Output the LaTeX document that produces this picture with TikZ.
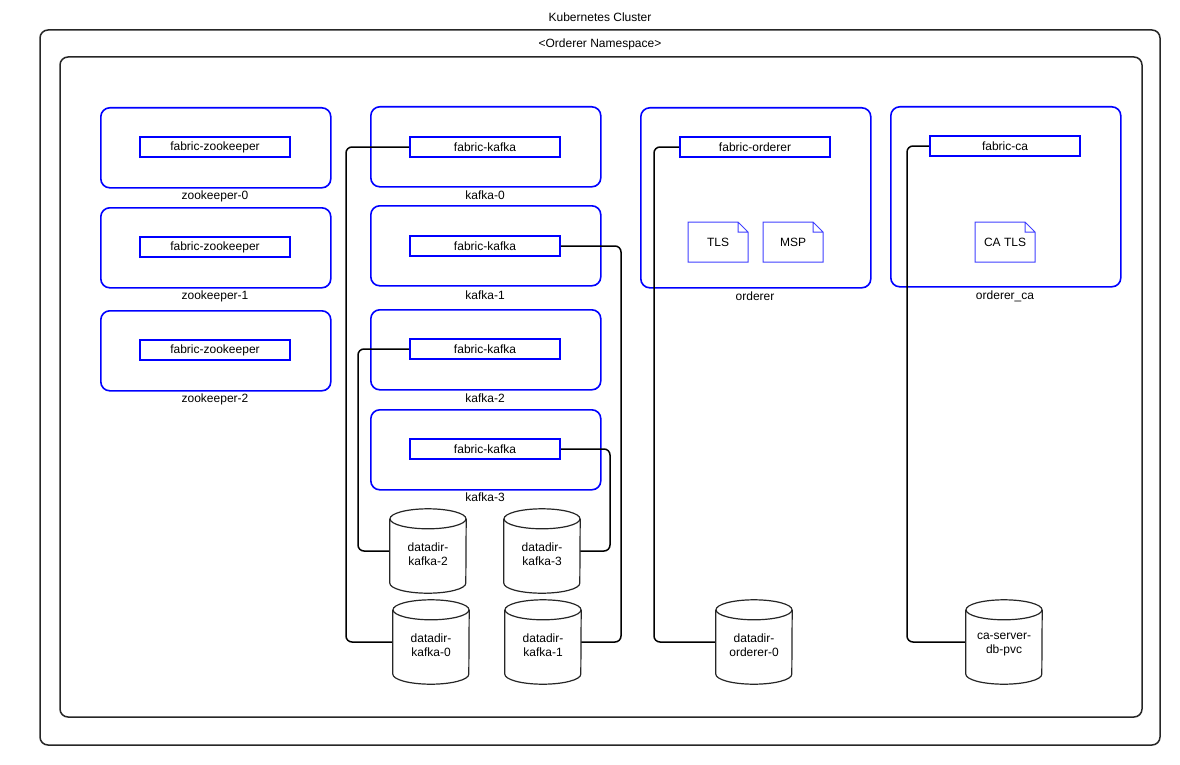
\documentclass[tikz,border=0pt]{standalone}
\usepackage{fontspec}
\setmainfont{Liberation Sans}
\begin{document}
\begin{tikzpicture}[x=1pt,y=-1pt,font=\fontsize{12}{14}\selectfont,
  frame/.style={draw=black!85,line width=1.5pt,rounded corners=8pt},
  pod/.style={draw=blue,line width=1.6pt,rounded corners=9pt,minimum width=230pt,inner sep=0pt},
  ctr/.style={draw=blue,line width=1.6pt,minimum width=150pt,minimum height=20pt,inner sep=0pt},
  cylb/.style={minimum width=76pt,minimum height=84pt,inner sep=0pt,align=center},
  cyl/.style={draw=black!85,line width=1.2pt,fill=white},
  conn/.style={draw=black,line width=1.5pt,rounded corners=6pt},
  lbl/.style={inner sep=1pt}]
\newcommand\mycyl[1]{\draw[cyl] ([yshift=-10pt]#1.north west) -- ([yshift=10pt]#1.south west) arc[start angle=180,end angle=360,x radius=38pt,y radius=10pt] -- ([yshift=-10pt]#1.north east);
\draw[cyl] ([yshift=-10pt]#1.north) ellipse[x radius=38pt,y radius=10pt];}
\newcommand\mydoc[3]{\draw[draw=blue!75,line width=1pt,fill=white] (#2,222) -- (#2+50,222) -- (#2+60,232) -- (#2+60,262) -- (#2,262) -- cycle (#2+50,222) -- (#2+50,232) -- (#2+60,232);
\node[lbl] (#1) at (#2+30,242) {#3};}
\useasboundingbox (0,0) rectangle (1180,765);
% frames
\draw[frame] (40,30) rectangle (1160,745);
\node[lbl] (kc) at (600,17) {Kubernetes Cluster};
\draw[frame] (60,57) rectangle (1142,717);
\node[lbl] (ns) at (600,44) {<Orderer Namespace>};
% zookeeper
\foreach \i/\y/\ly in {0/107/196,1/207/296,2/310/399}{
  \node[pod,minimum height=80pt,anchor=north west] (zp\i) at (100,\y) {};
  \node[ctr,fill=white] (zc\i) at (215,\y+40) {fabric-zookeeper};
  \node[lbl] (zl\i) at (215,\ly) {zookeeper-\i};
}
% kafka pods
\foreach \i/\y/\ly in {0/106/195,1/205/295,2/309/398,3/409/497}{
  \node[pod,minimum height=80pt,anchor=north west] (kp\i) at (370,\y) {};
  \node[lbl] (kl\i) at (485,\ly) {kafka-\i};
}
% orderer, ca pods
\node[pod,minimum height=180pt,anchor=north west] (op) at (640,107) {};
\node[lbl] (ol) at (755,296) {orderer};
\node[pod,minimum height=180pt,anchor=north west] (cp) at (890,106) {};
\node[lbl] (cl) at (1005,296) {orderer\_ca};
% cylinders
\node[cylb] (d2) at (428,551) {};
\node[cylb] (d3) at (542,551) {};
\node[cylb] (d0) at (431,642) {};
\node[cylb] (d1) at (543,642) {};
\node[cylb] (dor) at (754,642) {};
\node[cylb] (dca) at (1004,642) {};
% connectors
\node[ctr] (kc0) at (485,147) {};
\node[ctr] (kc1) at (485,246) {};
\node[ctr] (kc2) at (485,349) {};
\node[ctr] (kc3) at (485,449) {};
\node[ctr] (oc) at (755,147) {};
\node[ctr] (cc) at (1005,146) {};
\coordinate (j0) at (346,147); \draw[conn] (kc0.west) -- (j0) |- (d0.west);
\coordinate (j1) at (621,246); \draw[conn] (kc1.east) -- (j1) |- (d1.east);
\coordinate (j2) at (358,349); \draw[conn] (kc2.west) -- (j2) |- (d2.west);
\coordinate (j3) at (610,449); \draw[conn] (kc3.east) -- (j3) |- (d3.east);
\coordinate (j4) at (654,147); \draw[conn] (oc.west) -- (j4) |- (dor.west);
\coordinate (j5) at (907,146); \draw[conn] (cc.west) -- (j5) |- (dca.west);
% cylinder shapes on top
\foreach \n in {d0,d1,d2,d3,dor,dca}{\mycyl{\n}}
\node[cylb] at ([yshift=-3pt]d2) {datadir-\\kafka-2};
\node[cylb] at ([yshift=-3pt]d3) {datadir-\\kafka-3};
\node[cylb] at ([yshift=-3pt]d0) {datadir-\\kafka-0};
\node[cylb] at ([yshift=-3pt]d1) {datadir-\\kafka-1};
\node[cylb] at ([yshift=-3pt]dor) {datadir-\\orderer-0};
\node[cylb] at ([yshift=-3pt]dca) {ca-server-\\db-pvc};
% container boxes on top
\foreach \n in {kc0,kc1,kc2,kc3}{\node[ctr,fill=white] at (\n) {fabric-kafka};}
\node[ctr,fill=white] at (oc) {fabric-orderer};
\node[ctr,fill=white] at (cc) {fabric-ca};
% docs
\mydoc{tls}{688}{TLS}
\mydoc{msp}{763}{MSP}
\mydoc{catls}{975}{CA TLS}
\end{tikzpicture}
\end{document}
